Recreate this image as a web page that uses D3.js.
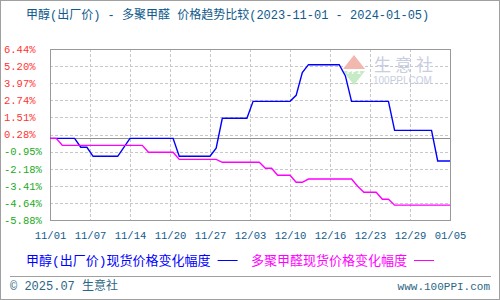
<!DOCTYPE html>
<html>

<head>
  <meta charset="utf-8">
  <script src="https://d3js.org/d3.v7.min.js"></script>

  <style>
    body { margin: 0; background: #fff; }
    svg text { font-family: "Liberation Mono", "DejaVu Sans Mono", "Noto Sans CJK SC", monospace; }
  </style>
</head>

<body>

  <div id="svgcontainer"></div>

  <script>

    /* chart data, one value per day from 2023-11-01 to 2024-01-05 */
    var titleText = "甲醇(出厂价) - 多聚甲醛 价格趋势比较(2023-11-01 - 2024-01-05)";
    var xLabels = ["11/01", "11/07", "11/14", "11/20", "11/27", "12/03", "12/10", "12/16", "12/23", "12/29", "01/05"];
    var yTicks = [6.44, 5.20, 3.97, 2.74, 1.51, 0.28, -0.95, -2.18, -3.41, -4.64, -5.88];

    var seriesNames = ["甲醇(出厂价)现货价格变化幅度", "多聚甲醛现货价格变化幅度"];
    var seriesColors = ["#0000ff", "#ff00ff"];

    // methanol (ex-factory) daily change %
    var methanol = [
      0, 0, 0, 0, 0, -0.64, -0.64, -1.29, -1.29, -1.29,
      -1.29, -1.29, -0.65, 0, 0, 0, 0, 0, 0, 0,
      0, -1.29, -1.29, -1.29, -1.29, -1.29, -1.29, -0.70, 1.45, 1.45,
      1.45, 1.45, 1.45, 2.67, 2.67, 2.67, 2.67, 2.67, 2.67, 2.67,
      3.10, 4.75, 5.31, 5.31, 5.31, 5.31, 5.31, 5.31, 4.50, 2.67,
      2.67, 2.67, 2.67, 2.67, 2.67, 2.67, 0.58, 0.58, 0.58, 0.58,
      0.58, 0.58, 0.58, -1.63, -1.63, -1.63
    ];

    // paraformaldehyde daily change %
    var paraform = [
      0, 0, -0.50, -0.50, -0.50, -0.50, -0.50, -0.50, -0.50, -0.50,
      -0.50, -0.50, -0.50, -0.50, -0.50, -0.50, -1.00, -1.00, -1.00, -1.00,
      -1.00, -1.51, -1.51, -1.51, -1.51, -1.51, -1.51, -1.51, -1.72, -1.72,
      -1.72, -1.72, -1.72, -1.72, -1.72, -2.15, -2.15, -2.66, -2.66, -2.66,
      -3.16, -3.16, -2.93, -2.93, -2.93, -2.93, -2.93, -2.93, -2.93, -2.93,
      -3.45, -3.88, -3.88, -3.88, -4.39, -4.39, -4.81, -4.81, -4.81, -4.81,
      -4.81, -4.81, -4.81, -4.81, -4.81, -4.81
    ];


    /* svg set up */
    var width = 500, height = 300;
    var plot = { left: 50, right: 450, top: 49, bottom: 220 };

    var svg = d3.select("#svgcontainer")
      .append("svg")
      .attr("width", width)
      .attr("height", height);

    // outer frame
    svg.append("rect")
      .attr("x", 0.5).attr("y", 0.5)
      .attr("width", width - 1).attr("height", height - 1)
      .attr("fill", "#fff")
      .attr("stroke", "#a0a0a0");

    // title
    svg.append("text")
      .attr("x", 26).attr("y", 19)
      .attr("font-size", "12px")
      .attr("fill", "#0f5a8c")
      .text(titleText);


    /* scales */
    var x = d3.scaleLinear()
      .domain([0, methanol.length - 1])
      .range([plot.left, plot.right]);

    var xTick = d3.scalePoint()
      .domain(xLabels)
      .range([plot.left, plot.right]);

    var y = d3.scaleLinear()
      .domain([d3.min(yTicks), d3.max(yTicks)])
      .range([plot.bottom, plot.top]);


    /* grid */
    var grid = svg.append("g").attr("stroke", "#c8c8c8").attr("stroke-dasharray", "3,2");

    grid.selectAll("line.h")
      .data(yTicks)
      .enter()
      .append("line")
      .attr("x1", plot.left).attr("x2", plot.right)
      .attr("y1", d => Math.round(y(d)) + 0.5)
      .attr("y2", d => Math.round(y(d)) + 0.5);

    grid.selectAll("line.v")
      .data(xLabels.slice(1, -1))
      .enter()
      .append("line")
      .attr("y1", plot.top).attr("y2", plot.bottom)
      .attr("x1", d => Math.round(xTick(d)) + 0.5)
      .attr("x2", d => Math.round(xTick(d)) + 0.5);

    // zero line
    svg.append("line")
      .attr("x1", plot.left).attr("x2", plot.right)
      .attr("y1", Math.round(y(0)) + 0.5).attr("y2", Math.round(y(0)) + 0.5)
      .attr("stroke", "#909090");


    /* watermark */
    var wm = svg.append("g").attr("transform", "translate(343,55)");
    wm.append("polygon").attr("points", "11,0 22,14 0,14").attr("fill", "#f2b7ae");
    wm.append("polygon").attr("points", "0,16 22,16 11,30").attr("fill", "#c6ecc6");
    wm.append("text").attr("x", 11).attr("y", 19).attr("text-anchor", "middle")
      .attr("font-size", "8px").attr("font-weight", "bold").attr("fill", "#fff").text("PPI");
    wm.append("text").attr("x", 31).attr("y", 16)
      .attr("font-size", "17px").attr("fill", "#c9cde0")
      .attr("letter-spacing", "4px")
      .style("font-family", "Noto Sans CJK SC")
      .text("生意社");
    wm.append("text").attr("x", 30).attr("y", 29)
      .attr("font-size", "10px").attr("fill", "#c9cde0")
      .style("font-family", "Liberation Sans")
      .text("100PPI.COM");


    /* plot border */
    svg.append("rect")
      .attr("x", plot.left + 0.5).attr("y", plot.top + 0.5)
      .attr("width", plot.right - plot.left).attr("height", plot.bottom - plot.top)
      .attr("fill", "none")
      .attr("stroke", "#999");


    /* axes */
    var yAxis = svg.append("g")
      .attr("transform", "translate(" + plot.left + ",0)")
      .call(d3.axisLeft(y).tickValues(yTicks).tickSize(0)
        .tickFormat(d => d.toFixed(2) + "%"));
    yAxis.select(".domain").remove();
    // labels sit left-aligned against the frame
    yAxis.selectAll("text")
      .attr("text-anchor", "start")
      .attr("x", 4 - plot.left)
      .attr("font-size", "10.5px")
      .style("font-family", "Liberation Mono")
      .attr("fill", d => d > 0 ? "#ff3333" : "#22aa22");

    var xAxis = svg.append("g")
      .attr("transform", "translate(0," + plot.bottom + ")")
      .call(d3.axisBottom(xTick).tickSize(0).tickPadding(12));
    xAxis.select(".domain").remove();
    xAxis.selectAll("text")
      .attr("font-size", "10.5px")
      .style("font-family", "Liberation Mono")
      .attr("fill", "#125a8c");


    /* lines */
    var line = d3.line()
      .x((d, i) => x(i))
      .y(d => y(d));

    [methanol, paraform].forEach(function (s, k) {
      svg.append("path")
        .datum(s)
        .attr("d", line)
        .attr("fill", "none")
        .attr("stroke", seriesColors[k])
        .attr("stroke-width", 1.4);
    });


    /* legend */
    var legendX = [26, 251];
    seriesNames.forEach(function (name, k) {
      var t = svg.append("text")
        .attr("x", legendX[k]).attr("y", 265)
        .attr("font-size", "13px")
        .attr("fill", seriesColors[k])
        .text(name);
      var w = t.node().getComputedTextLength();
      svg.append("line")
        .attr("x1", legendX[k] + w + 7).attr("x2", legendX[k] + w + 27)
        .attr("y1", 260.5).attr("y2", 260.5)
        .attr("stroke", seriesColors[k]);
    });


    /* footer */
    svg.append("line")
      .attr("x1", 10).attr("x2", 491)
      .attr("y1", 276.5).attr("y2", 276.5)
      .attr("stroke", "#a0a0a0");

    svg.append("text")
      .attr("x", 10).attr("y", 290)
      .attr("font-size", "12px")
      .attr("fill", "#2b6785")
      .text("© 2025.07 生意社");

    svg.append("text")
      .attr("x", 490).attr("y", 290)
      .attr("text-anchor", "end")
      .attr("font-size", "11px")
      .attr("fill", "#2b6785")
      .text("www.100PPI.com");

  </script>
</body>

</html>
